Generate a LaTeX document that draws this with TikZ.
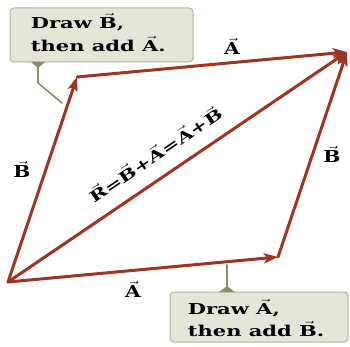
\documentclass[tikz,border=0pt]{standalone}
\usepackage{fontspec}
\setmainfont{DejaVu Serif}
\usetikzlibrary{arrows.meta}
\definecolor{vecred}{HTML}{9E3424}
\definecolor{boxfill}{HTML}{E6E6D8}
\definecolor{boxline}{HTML}{B2B29C}
\definecolor{pointer}{HTML}{8C8C6C}
\newcommand{\bvec}[1]{\ensuremath{\vec{\mbox{\bfseries #1}}}}

\begin{document}
\begin{tikzpicture}[
   x=1pt,
   y=1pt,
   line cap=round,
   line join=round,
   every node/.style={font=\bfseries\fontsize{15}{17}\selectfont},
   vecarrow/.style={vecred,line width=3pt,-{Stealth[length=14pt,width=10pt,inset=3pt]}},
   callout/.style={fill=boxfill,draw=boxline,line width=1pt,rounded corners=4pt},
   boxtext/.style={anchor=west,xscale=1.4},
   veclabel/.style={xscale=1.35,yscale=1.1}
 ]
   \useasboundingbox (0,0) rectangle (350,346);
   % Corners of the parallelogram.
   \coordinate (o) at (8,64);
   \coordinate (a) at (278,89);
   \coordinate (b) at (77,269);
   \coordinate (r) at (347,294);

   % Callout for the B-first route.
   \draw[pointer,line width=1.6pt] (38,284) -- (38,263) -- (62,243);
   \path[callout] (10,284) rectangle (193,338);
   \fill[pointer] (31,284) -- (45,284) -- (38,278) -- cycle;
   \node[boxtext] (drawb) at (26,324) {Draw \bvec{B},};
   \node[boxtext] (thena) at (26,302) {then add \bvec{A}.};

   % Callout for the A-first route.
   \draw[pointer,line width=1.6pt] (227,81) -- (227,54);
   \path[callout] (170,4) rectangle (348,54);
   \fill[pointer] (219,54) -- (235,54) -- (227,60) -- cycle;
   \node[boxtext] (drawa) at (183,38) {Draw \bvec{A},};
   \node[boxtext] (thenb) at (183,17) {then add \bvec{B}.};

   % The vectors.
   \draw[vecarrow] (o) -- (a);
   \draw[vecarrow] (a) -- (r);
   \draw[vecarrow] (o) -- (b);
   \draw[vecarrow] (b) -- (r);
   \draw[vecarrow] (o) -- (r);

   % Labels.
   \node[veclabel] (alow) at (133,57) {\bvec{A}};
   \node[veclabel] (atop) at (232,300) {\bvec{A}};
   \node[veclabel] (bleft) at (22,177) {\bvec{B}};
   \node[veclabel] (bright) at (332,192) {\bvec{B}};
   \node[rotate=34,xscale=1.4] (rsum) at (155,192)
     {\bvec{R}=\bvec{B}+\bvec{A}=\bvec{A}+\bvec{B}};
 \end{tikzpicture}
\end{document}
